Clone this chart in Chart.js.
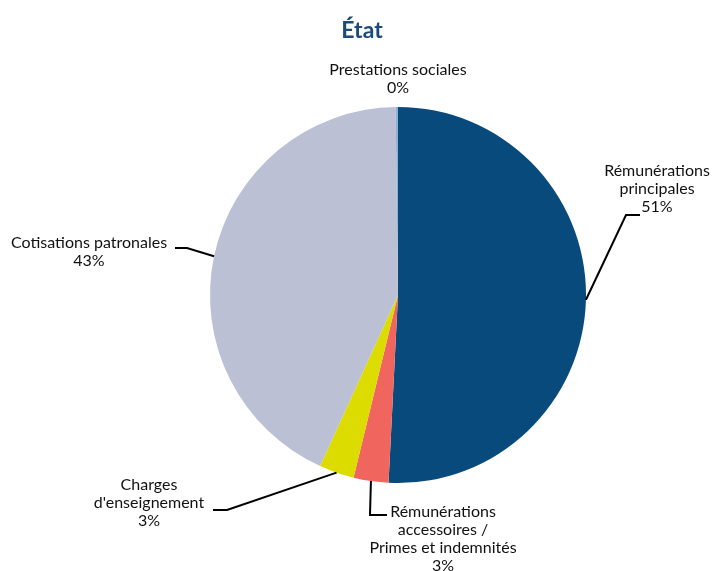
<!DOCTYPE html>
<html>
<head>
<meta charset="utf-8">
<script src="https://cdn.jsdelivr.net/npm/chart.js@4"></script>
<style>
  html, body { margin: 0; padding: 0; background: #fff; }
  #wrap { width: 713px; height: 571px; }
</style>
</head>
<body>
<div id="wrap"><canvas id="chart"></canvas></div>
<script>
// Slices, clockwise from 12 o'clock
const categories = [
  ['Rémunérations', 'principales'],
  ['Rémunérations', 'accessoires /', 'Primes et indemnités'],
  ['Charges', "d'enseignement"],
  ['Cotisations patronales'],
  ['Prestations sociales'],
];
const shares = [50.8, 3.0, 3.0, 43.0, 0.2];
const pctLabels = ['51%', '3%', '3%', '43%', '0%'];
const colors = ['#074a7b', '#f0665f', '#dcdc00', '#bcc0d5', '#8fb0d2'];

// Label placement: text block centre (x, first line y) and leader elbow / end
const labelLayout = [
  { tx: 657, ty: 171, elbow: [626, 215], end: [640, 215] },
  { tx: 443, ty: 512, elbow: [370, 515], end: [387, 515] },
  { tx: 149, ty: 485, elbow: [227, 510], end: [213, 510] },
  { tx: 89, ty: 243, elbow: [187, 248], end: [175, 248] },
  { tx: 398, ty: 70, elbow: null, end: null },
];

const FONT = '"Lato", "Open Sans", sans-serif';

/**
 * Title, leader lines and slice labels drawn over the pie
 */
const labelsPlugin = {
  id: 'sliceLabels',
  afterDraw(chart) {
    const ctx = chart.ctx;
    const arcs = chart.getDatasetMeta(0).data;
    ctx.save();

    // title
    ctx.fillStyle = '#1b4b7a';
    ctx.font = 'bold 23px ' + FONT;
    ctx.textAlign = 'center';
    ctx.textBaseline = 'middle';
    ctx.fillText('État', 362, 31);

    ctx.strokeStyle = '#000';
    ctx.lineWidth = 2;
    ctx.font = '16px ' + FONT;
    ctx.fillStyle = '#111';

    arcs.forEach((arc, i) => {
      const lay = labelLayout[i];
      if (lay.elbow) {
        const mid = (arc.startAngle + arc.endAngle) / 2;
        const sx = arc.x + Math.cos(mid) * arc.outerRadius;
        const sy = arc.y + Math.sin(mid) * arc.outerRadius;
        ctx.beginPath();
        ctx.moveTo(sx, sy);
        ctx.lineTo(lay.elbow[0], lay.elbow[1]);
        ctx.lineTo(lay.end[0], lay.end[1]);
        ctx.stroke();
      }
      const lines = categories[i].concat([pctLabels[i]]);
      lines.forEach((line, j) => {
        ctx.fillText(line, lay.tx, lay.ty + j * 17.8);
      });
    });
    ctx.restore();
  },
};

const config = {
  type: 'pie',
  data: {
    labels: categories.map((c) => c.join(' ')),
    datasets: [
      {
        data: shares,
        backgroundColor: colors,
        borderWidth: 0,
      },
    ],
  },
  options: {
    responsive: true,
    maintainAspectRatio: false,
    animation: false,
    layout: {
      padding: { top: 107, bottom: 88, left: 210, right: 127 },
    },
    plugins: {
      legend: { display: false },
      title: { display: false },
      tooltip: { enabled: false },
    },
  },
  plugins: [labelsPlugin],
};

new Chart(document.getElementById('chart'), config);
</script>
</body>
</html>
